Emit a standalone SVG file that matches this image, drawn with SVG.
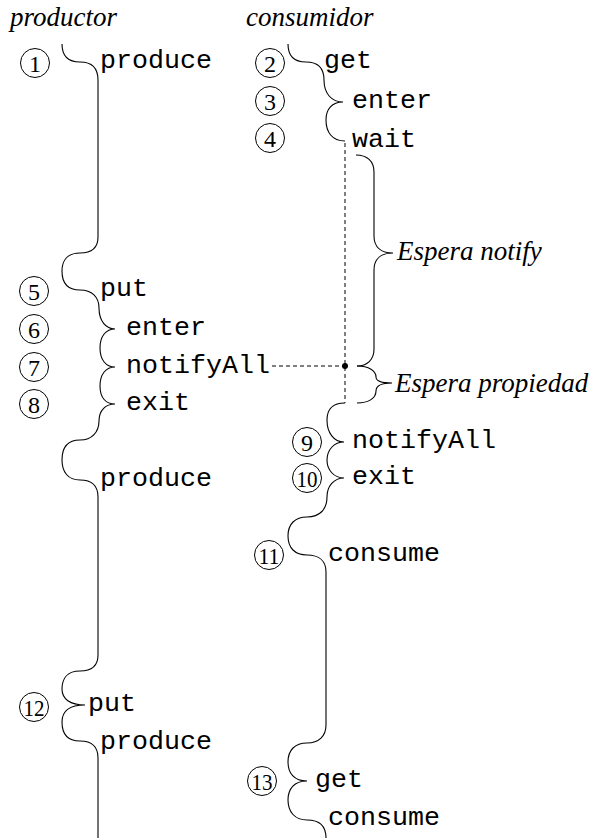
<svg xmlns="http://www.w3.org/2000/svg" width="592" height="838" viewBox="0 0 592 838">
<style>
.bg{fill:#fff}
.brace{fill:none;stroke:#000;stroke-width:1.1}
.dash{fill:none;stroke:#000;stroke-width:1;stroke-dasharray:4 3}
.mono{font-family:"Liberation Mono","Courier New",monospace;font-size:26.67px;fill:#000}
.it{font-family:"Liberation Serif","Times New Roman",serif;font-style:italic;font-size:27px;fill:#000}
.num{font-family:"Liberation Serif","Times New Roman",serif;font-size:24px;fill:#000;text-anchor:middle}
.circ{fill:none;stroke:#000;stroke-width:1}
</style>
<rect class="bg" x="0" y="0" width="592" height="838"/>

<g id="headers">
<text class="it" x="10" y="26">productor</text>
<text class="it" x="246" y="26">consumidor</text>
</g>

<g id="productor-line">
<path class="brace" d="M62,44 C62,56 68,62 80,62 C92,62 98,68 98,80 L98,237 C98,248 92,253 80,253 C68,253 62,260 62,271 C62,283 68,290 80,290 C92,290 99,297 99,308 C99,321 106,329 115,329 C106,329 100,336 100,348 C100,360 106,367 115,367 C106,367 100,374 100,386 C100,398 106,404 115,404 C106,404 99,410 99,421 C99,432 92,440 80,440 C68,440 62,447 62,460 C62,472 68,480 80,480 C92,480 98,486 98,497 L98,655 C98,666 92,671 80,671 C68,671 62,678 62,689 C62,699 70,705 85,705 C70,705 62,711 62,722 C62,734 68,741 80,741 C92,741 98,747 98,758 L98,838"/>
</g>

<g id="consumidor-line">
<path class="brace" d="M288,44 C288,56 294,62 306,62 C318,62 324,68 324,80 C324,94 332,102 343,102 C332,102 326,109 326,120 C326,132 332,141 345,141"/>
<path class="brace" d="M345,403 C333,403 327,409 327,420 C327,433 334,442 344,442 C334,442 327,450 327,460 C327,470 334,478 344,478 C334,478 327,486 327,497 C327,509 320,517 307,517 C295,517 288,524 288,536 C288,548 295,555 307,555 C319,555 326,561 326,572 L326,725 C326,736 319,743 307,743 C295,743 288,750 288,762 C288,773 294,781 307,781 C294,781 288,789 288,800 C288,812 295,820 307,820 C319,820 326,826 326,838"/>
</g>

<g id="espera-notify">
<path class="brace" d="M356,155 C367,155 374,161 374,172 L374,236 C374,247 381,253 393,253 C381,253 374,259 374,270 L374,349 C374,360 367,366 357,366"/>
<text class="it" x="397" y="260">Espera notify</text>
</g>

<g id="espera-propiedad">
<path class="brace" d="M357,366 C369,366 376,371 376,377 C376,381 382,383 392,383 C382,383 376,386 376,391 C376,398 369,403 357,403"/>
<text class="it" x="395" y="392">Espera propiedad</text>
</g>

<g id="connectors">
<line class="dash" x1="272" y1="366" x2="345" y2="366"/>
<line class="dash" x1="345" y1="143" x2="345" y2="403"/>
<circle cx="345" cy="366" r="3" fill="#000"/>
</g>

<g id="step1"><circle class="circ" cx="35" cy="63" r="14.5"/><text class="num" x="35" y="71.5">1</text><text class="mono" x="100" y="68">produce</text></g>
<g id="step2"><circle class="circ" cx="270" cy="63" r="14.5"/><text class="num" x="270" y="71.5">2</text><text class="mono" x="324" y="68">get</text></g>
<g id="step3"><circle class="circ" cx="270" cy="101" r="14.5"/><text class="num" x="270" y="109.5">3</text><text class="mono" x="352" y="108">enter</text></g>
<g id="step4"><circle class="circ" cx="270" cy="138" r="14.5"/><text class="num" x="270" y="146.5">4</text><text class="mono" x="352" y="147">wait</text></g>
<g id="step5"><circle class="circ" cx="34" cy="291" r="14.5"/><text class="num" x="34" y="299.5">5</text><text class="mono" x="100" y="296">put</text></g>
<g id="step6"><circle class="circ" cx="34" cy="329" r="14.5"/><text class="num" x="34" y="337.5">6</text><text class="mono" x="126" y="335">enter</text></g>
<g id="step7"><circle class="circ" cx="34" cy="367" r="14.5"/><text class="num" x="34" y="375.5">7</text><text class="mono" x="126" y="373">notifyAll</text></g>
<g id="step8"><circle class="circ" cx="34" cy="404" r="14.5"/><text class="num" x="34" y="412.5">8</text><text class="mono" x="126" y="410">exit</text></g>
<g id="produce2"><text class="mono" x="100" y="486">produce</text></g>
<g id="step9"><circle class="circ" cx="307" cy="442" r="14.5"/><text class="num" x="307" y="450.5">9</text><text class="mono" x="352" y="448">notifyAll</text></g>
<g id="step10"><circle class="circ" cx="307" cy="478" r="14.5"/><text class="num" x="307" y="486.5" textLength="21" lengthAdjust="spacingAndGlyphs">10</text><text class="mono" x="352" y="484">exit</text></g>
<g id="step11"><circle class="circ" cx="269" cy="555" r="14.5"/><text class="num" x="269" y="563.5" textLength="21" lengthAdjust="spacingAndGlyphs">11</text><text class="mono" x="328" y="561">consume</text></g>
<g id="step12"><circle class="circ" cx="34" cy="707" r="14.5"/><text class="num" x="34" y="715.5" textLength="21" lengthAdjust="spacingAndGlyphs">12</text><text class="mono" x="88" y="711">put</text></g>
<g id="produce3"><text class="mono" x="100" y="749">produce</text></g>
<g id="step13"><circle class="circ" cx="262" cy="781" r="14.5"/><text class="num" x="262" y="789.5" textLength="21" lengthAdjust="spacingAndGlyphs">13</text><text class="mono" x="315" y="787">get</text></g>
<g id="consume2"><text class="mono" x="328" y="825">consume</text></g>
</svg>
